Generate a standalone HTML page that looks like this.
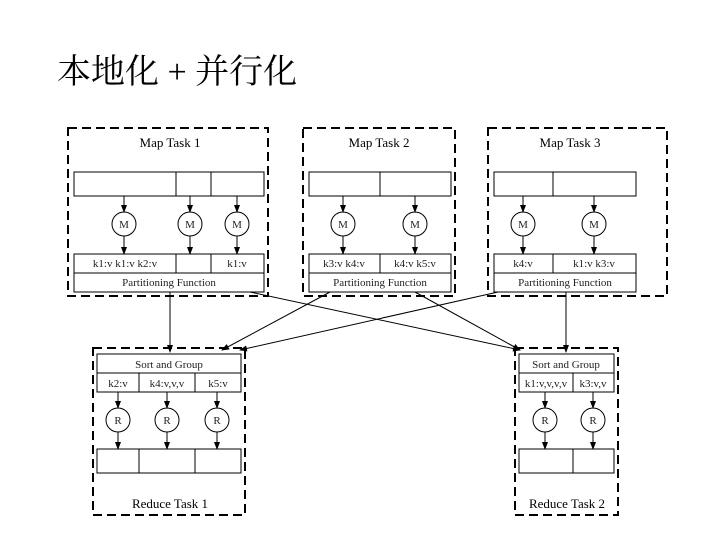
<!DOCTYPE html>
<html><head><meta charset="utf-8"><style>
body{margin:0;background:#fff;width:720px;height:540px;overflow:hidden}
</style></head><body>
<svg width="720" height="540" xmlns="http://www.w3.org/2000/svg" font-family="Liberation Serif, serif">
<defs><marker id="a" markerWidth="8" markerHeight="8" refX="7" refY="4" orient="auto" markerUnits="userSpaceOnUse"><path d="M0,1 L8,4 L0,7 z" fill="#000"/></marker></defs>
<text x="57" y="83" font-family="Liberation Serif, Noto Serif CJK SC, serif" font-size="34">本地化 + 并行化</text>
<g fill="none" stroke="#000" stroke-width="2" stroke-dasharray="9,5">
<rect x="68" y="128" width="200" height="168"/>
<rect x="303" y="128" width="152" height="168"/>
<rect x="488" y="128" width="179" height="168"/>
<rect x="93" y="348" width="152" height="167"/>
<rect x="515" y="348" width="103" height="167"/>
</g>
<g font-size="13" text-anchor="middle">
<text x="170" y="147">Map Task 1</text>
<text x="379" y="147">Map Task 2</text>
<text x="570" y="147">Map Task 3</text>
<text x="170" y="508">Reduce Task 1</text>
<text x="567" y="508">Reduce Task 2</text>
</g>
<g fill="none" stroke="#000" stroke-width="1">
<rect x="74" y="172" width="190" height="24"/><path d="M176,172V196M211,172V196"/>
<rect x="74" y="254" width="190" height="38"/><path d="M74,273H264M176,254V273M211,254V273"/>
<rect x="309" y="172" width="142" height="24"/><path d="M380,172V196"/>
<rect x="309" y="254" width="142" height="38"/><path d="M309,273H451M380,254V273"/>
<rect x="494" y="172" width="142" height="24"/><path d="M553,172V196"/>
<rect x="494" y="254" width="142" height="38"/><path d="M494,273H636M553,254V273"/>
<rect x="97" y="354" width="144" height="38"/><path d="M97,373H241M139,373V392M195,373V392"/>
<rect x="97" y="449" width="144" height="24"/><path d="M139,449V473M195,449V473"/>
<rect x="519" y="354" width="95" height="38"/><path d="M519,373H614M573,373V392"/>
<rect x="519" y="449" width="95" height="24"/><path d="M573,449V473"/>
</g>
<g fill="#fff" stroke="#000" stroke-width="1">
<circle cx="124" cy="224" r="12"/><circle cx="190" cy="224" r="12"/><circle cx="237" cy="224" r="12"/>
<circle cx="343" cy="224" r="12"/><circle cx="415" cy="224" r="12"/>
<circle cx="523" cy="224" r="12"/><circle cx="594" cy="224" r="12"/>
<circle cx="118" cy="420" r="12"/><circle cx="167" cy="420" r="12"/><circle cx="217" cy="420" r="12"/>
<circle cx="545" cy="420" r="12"/><circle cx="593" cy="420" r="12"/>
</g>
<g stroke="#000" stroke-width="1" marker-end="url(#a)">
<line x1="124" y1="196" x2="124" y2="212"/><line x1="190" y1="196" x2="190" y2="212"/><line x1="237" y1="196" x2="237" y2="212"/>
<line x1="343" y1="196" x2="343" y2="212"/><line x1="415" y1="196" x2="415" y2="212"/>
<line x1="523" y1="196" x2="523" y2="212"/><line x1="594" y1="196" x2="594" y2="212"/>
<line x1="124" y1="236" x2="124" y2="254"/><line x1="190" y1="236" x2="190" y2="254"/><line x1="237" y1="236" x2="237" y2="254"/>
<line x1="343" y1="236" x2="343" y2="254"/><line x1="415" y1="236" x2="415" y2="254"/>
<line x1="523" y1="236" x2="523" y2="254"/><line x1="594" y1="236" x2="594" y2="254"/>
<line x1="118" y1="392" x2="118" y2="408"/><line x1="167" y1="392" x2="167" y2="408"/><line x1="217" y1="392" x2="217" y2="408"/>
<line x1="545" y1="392" x2="545" y2="408"/><line x1="593" y1="392" x2="593" y2="408"/>
<line x1="118" y1="432" x2="118" y2="449"/><line x1="167" y1="432" x2="167" y2="449"/><line x1="217" y1="432" x2="217" y2="449"/>
<line x1="545" y1="432" x2="545" y2="449"/><line x1="593" y1="432" x2="593" y2="449"/>
<line x1="170" y1="292" x2="170" y2="352"/><line x1="566" y1="292" x2="566" y2="352"/>
<line x1="250" y1="292" x2="520" y2="350"/><line x1="330" y1="292" x2="222" y2="350"/>
<line x1="415" y1="292" x2="520" y2="350"/><line x1="498" y1="292" x2="240" y2="350"/>
</g>
<g font-size="11" text-anchor="middle" fill="#222">
<text x="124" y="228">M</text><text x="190" y="228">M</text><text x="237" y="228">M</text>
<text x="343" y="228">M</text><text x="415" y="228">M</text>
<text x="523" y="228">M</text><text x="594" y="228">M</text>
<text x="118" y="424">R</text><text x="167" y="424">R</text><text x="217" y="424">R</text>
<text x="545" y="424">R</text><text x="593" y="424">R</text>
<text x="125" y="267">k1:v k1:v k2:v</text><text x="237" y="267">k1:v</text>
<text x="169" y="286">Partitioning Function</text>
<text x="344" y="267">k3:v k4:v</text><text x="415" y="267">k4:v k5:v</text>
<text x="380" y="286">Partitioning Function</text>
<text x="523" y="267">k4:v</text><text x="594" y="267">k1:v k3:v</text>
<text x="565" y="286">Partitioning Function</text>
<text x="169" y="368">Sort and Group</text>
<text x="118" y="387">k2:v</text><text x="167" y="387">k4:v,v,v</text><text x="218" y="387">k5:v</text>
<text x="566" y="368">Sort and Group</text>
<text x="546" y="387">k1:v,v,v,v</text><text x="593" y="387">k3:v,v</text>
</g>
</svg>
</body></html>
